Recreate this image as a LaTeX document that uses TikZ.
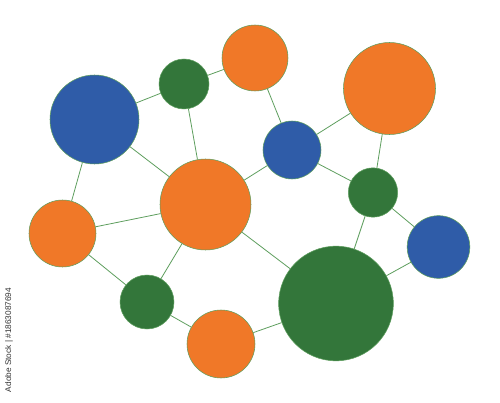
\documentclass[tikz,border=0pt]{standalone}
\usepackage{fontspec}
\setsansfont{Liberation Sans}
\definecolor{cblue}{HTML}{2F5CA8}
\definecolor{corange}{HTML}{F07828}
\definecolor{cgreen}{HTML}{33763A}
\definecolor{edgegreen}{HTML}{5E9E5E}
\tikzset{
  blob/.style={circle, draw=edgegreen, line width=0.4pt, inner sep=0pt, minimum size=#1},
  bl/.style={blob=#1, fill=cblue},
  og/.style={blob=#1, fill=corange},
  gr/.style={blob=#1, fill=cgreen},
  link/.style={draw=edgegreen, line width=0.6pt}
}
\begin{document}
\begin{tikzpicture}[x=0.75pt,y=-0.75pt]
\useasboundingbox (0,0) rectangle (500,403);
% radius r px -> diameter 1.5 r pt
\node[bl=66.75pt] (b1) at (94.5,119.5) {};
\node[gr=37.5pt] (g1) at (184,84) {};
\node[og=49.5pt] (o1) at (255,58) {};
\node[og=69pt] (o2) at (389.5,88.5) {};
\node[bl=43.5pt] (b2) at (292,150) {};
\node[og=68.25pt] (o3) at (205.5,204.5) {};
\node[gr=37pt] (g2) at (373,192.5) {};
\node[bl=47pt] (b3) at (438.5,247) {};
\node[og=50.25pt] (o4) at (62.5,233.5) {};
\node[gr=40.5pt] (g3) at (147,302) {};
\node[og=51pt] (o5) at (221,344) {};
\node[gr=86pt] (g4) at (336,303.5) {};
\path[link] (b1) -- (g1);
\path[link] (g1) -- (o1);
\path[link] (o1) -- (b2);
\path[link] (g1) -- (o3);
\path[link] (b1) -- (o3);
\path[link] (b1) -- (o4);
\path[link] (o4) -- (o3);
\path[link] (o4) -- (g3);
\path[link] (g3) -- (o3);
\path[link] (g3) -- (o5);
\path[link] (o5) -- (g4);
\path[link] (o3) -- (g4);
\path[link] (o3) -- (b2);
\path[link] (b2) -- (o2);
\path[link] (b2) -- (g2);
\path[link] (o2) -- (g2);
\path[link] (g2) -- (b3);
\path[link] (g2) -- (g4);
\path[link] (g4) -- (b3);
\node[rotate=90, font=\sffamily\fontsize{6.2pt}{7pt}\selectfont, text=black!80, inner sep=0pt] (wm) at (9,340) {Adobe Stock | \#1863087694};
\end{tikzpicture}
\end{document}
